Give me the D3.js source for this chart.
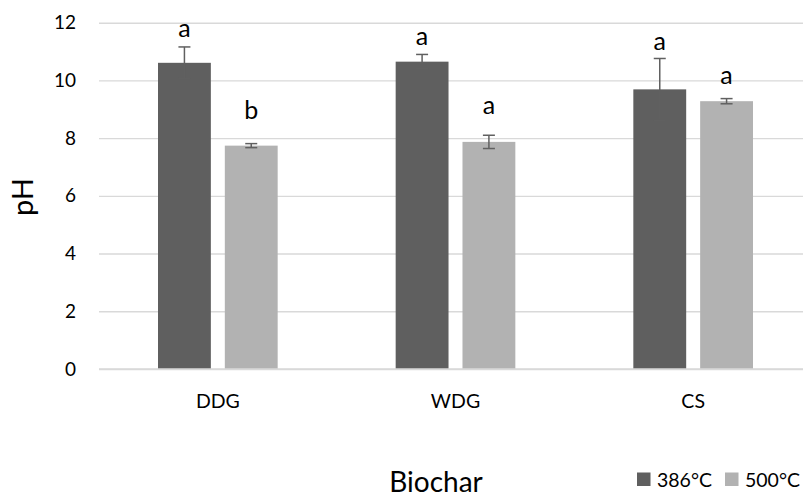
<!DOCTYPE html>
<html><head><meta charset="utf-8">
<script src="https://cdn.jsdelivr.net/npm/d3@7"></script>
<style>body{margin:0;background:#fff}svg{display:block}text{font-family:Lato,"Open Sans",sans-serif;fill:#000}</style>
</head><body><svg id="c" width="803" height="498"></svg>
<script>
const categories = ["DDG","WDG","CS"];
const series = ["386°C","500°C"];
const colors = ["#5f5f5f","#b2b2b2"];
const values386 = [10.61, 10.65, 9.69];
const values500 = [7.74, 7.87, 9.28];
const err386 = [0.55, 0.25, 1.07];
const err500 = [0.07, 0.23, 0.09];
const letters386 = ["a","a","a"];
const letters500 = ["b","a","a"];
const letterY386 = [11.51, 11.23, 11.05];
const letterY500 = [8.66, 8.83, 9.88];
const yTicks = [0,2,4,6,8,10,12];

const svg = d3.select("#c");
const y = d3.scaleLinear().domain([0,12]).range([369,22.7]);
const x0 = d3.scaleBand().domain(categories).range([99,812]).paddingInner(0).paddingOuter(0);
const x1 = d3.scaleBand().domain(series).range([59, x0.bandwidth()-59]).paddingInner(14/67);

// gridlines
const yAxis = d3.axisLeft(y).tickValues(yTicks).tickSize(-(803-99)).tickFormat(d3.format("d")).tickPadding(23);
const ga = svg.append("g").attr("transform","translate(99,0)").call(yAxis);
ga.select(".domain").remove();
ga.selectAll(".tick line").attr("stroke","#d9d9d9").attr("stroke-width",1.4);
ga.selectAll(".tick text").style("font-size","19px").attr("font-family","Lato").attr("fill","#000");

const data = categories.map((c,i)=>({c, vals:[
  {s:series[0], v:values386[i], e:err386[i], l:letters386[i], ly:letterY386[i]},
  {s:series[1], v:values500[i], e:err500[i], l:letters500[i], ly:letterY500[i]}]}));

const g = svg.selectAll("g.cat").data(data).enter().append("g").attr("class","cat")
  .attr("transform",d=>`translate(${x0(d.c)},0)`);
const b = g.selectAll("g.b").data(d=>d.vals).enter().append("g");
b.append("rect").attr("x",d=>x1(d.s)).attr("width",x1.bandwidth())
  .attr("y",d=>y(d.v)).attr("height",d=>y(0)-y(d.v))
  .attr("fill",(d,i)=>colors[i]);
const cx = d=>x1(d.s)+x1.bandwidth()/2;
b.append("line").attr("x1",cx).attr("x2",cx).attr("y1",d=>y(d.v+d.e)).attr("y2",d=>y(d.v-d.e))
  .attr("stroke","#606060").attr("stroke-width",1.5);
[1,-1].forEach(s=>{
  b.append("line").attr("x1",d=>cx(d)-6).attr("x2",d=>cx(d)+6)
   .attr("y1",d=>y(d.v+s*d.e)).attr("y2",d=>y(d.v+s*d.e))
   .attr("stroke","#606060").attr("stroke-width",1.5);
});
b.append("text").attr("x",cx).attr("y",d=>y(d.ly)).attr("text-anchor","middle")
  .style("font-size","25px").text(d=>d.l);

// x axis line
svg.append("line").attr("x1",99).attr("x2",803).attr("y1",y(0)).attr("y2",y(0)).attr("stroke","#d9d9d9").attr("stroke-width",1.4);
// category labels
svg.selectAll("text.cl").data(categories).enter().append("text").attr("class","cl")
  .attr("x",d=>x0(d)+x0.bandwidth()/2).attr("y",408).attr("text-anchor","middle")
  .style("font-size","19.5px").text(d=>d);

// axis titles
svg.append("text").attr("x",436).attr("y",492).attr("text-anchor","middle").style("font-size","28px").text("Biochar");
svg.append("text").attr("transform","translate(33,197) rotate(-90)").attr("text-anchor","middle").style("font-size","29px").text("pH");

// legend
const lx = [637, 725];
series.forEach((s,i)=>{
  svg.append("rect").attr("x",lx[i]).attr("y",472.5).attr("width",13.5).attr("height",13.5).attr("fill",colors[i]);
  svg.append("text").attr("x",lx[i]+20).attr("y",487).style("font-size",  "19.5px").text(s);
});
</script></body></html>
